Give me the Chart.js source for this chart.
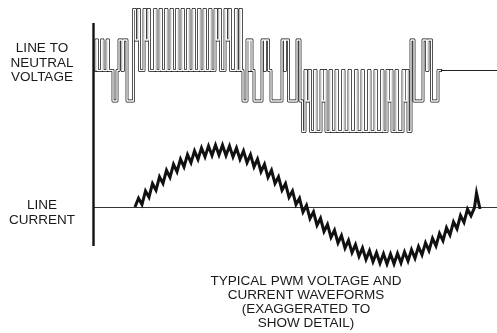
<!DOCTYPE html>
<html>
<head>
<meta charset="utf-8">
<script src="https://cdn.jsdelivr.net/npm/chart.js@4"></script>
<style>
  html, body { margin: 0; padding: 0; background: #fff; }
  canvas { display: block; }
</style>
</head>
<body>
<canvas id="chart" width="497" height="333"></canvas>
<script>
// PWM line-to-neutral voltage: time of each switching edge and the level it switches to
// (levels: +2, +1, 0, -1, -2 steps of the DC bus)
const voltTimes = [
  95.5, 96, 97.5, 101.5, 103, 107, 108.5, 113, 117, 119, 122, 123.5, 127,
  133.5, 135.5, 138, 139.5, 144, 145.5, 148, 149.5, 154.5, 156, 160, 161.5,
  165.5, 167, 171, 172.5, 176.5, 178, 182, 183.5, 187.5, 189, 193, 194.5,
  198.5, 200, 204, 205.5, 209.5, 211, 215, 216.5, 219, 220.5, 225, 226.5,
  229, 230.5, 235.5, 237, 240, 241.5,
  243, 247, 249, 250, 252, 254, 262, 264.5, 265.5, 268.5, 271, 282, 284.5,
  285.5, 288.5, 297, 300,
  302.5, 305, 306.5, 309, 310.5, 314.5, 316, 321, 322.5, 324.5, 326, 330,
  331.5, 336, 337.5, 342.5, 344, 349, 350.5, 355.5, 357, 362, 363.5, 368.5,
  370, 375, 376.5, 381.5, 383, 387, 388.5, 390.5, 392, 396, 397.5, 403,
  404.5, 406.5, 408,
  411, 414, 423, 426.5, 428, 431.5, 438, 441
]
const voltLevels = [
  0, 1, 0, 1, 0, 1, 0, -1, 0, 1, 0, 1, -1,
  2, 1, 2, 0, 2, 1, 2, 0, 2, 0, 2, 0,
  2, 0, 2, 0, 2, 0, 2, 0, 2, 0, 2, 0,
  2, 0, 2, 0, 2, 0, 2, 1, 2, 0, 2, 1,
  2, 0, 2, 0, 2, 0,
  -1, 1, 0, 1, 0, -1, 1, 0, 1, 0, -1, 1, 0,
  1, -1, 1, -1,
  -2, 0, -1, 0, -2, 0, -2, 0, -1, 0, -2, 0,
  -2, 0, -2, 0, -2, 0, -2, 0, -2, 0, -2, 0,
  -2, 0, -2, 0, -2, 0, -1, 0, -2, 0, -2, 0,
  -1, 0, -2,
  1, -1, 1, 0, 1, -1, 0, 0
]
// after the last pulse the voltage stays at zero
const voltTailTimes = [441, 497]
const voltTailLevels = [0, 0]

// line current (ripple on the sine)
const currTimes = [
  135, 138.5, 142, 145.5, 149, 152.5, 156, 159.5, 163, 166.5, 170, 173.5,
  177, 180.5, 184, 187.5, 191, 194.5, 198, 201.5, 205, 208.5, 212, 215.5,
  219, 222.5, 226, 229.5, 233, 236.5, 240, 243.5, 247, 250.5, 254, 257.5,
  261, 264.5, 268, 271.5, 275, 278.5, 282, 285.5, 289, 292.5, 296, 299.5,
  303, 306.5, 310, 313.5, 317, 320.5, 324, 327.5, 331, 334.5, 338, 341.5,
  345, 348.5, 352, 355.5, 359, 362.5, 366, 369.5, 373, 376.5, 380, 383.5,
  387, 390.5, 394, 397.5, 401, 404.5, 408, 411.5, 415, 418.5, 422, 425.5,
  429, 432.5, 436, 439.5, 443, 446.5, 450, 453.5, 457, 460.5, 464, 467.5,
  471, 474.5, 476.5, 480
]
const currValues = [
  0, 8.7, 2.4, 16.1, 9.8, 23.3, 16.8, 30.2, 23.5, 36.7, 29.7, 42.6,
  35.3, 47.9, 40.2, 52.4, 44.4, 56.1, 47.7, 59.0, 50.1, 60.9, 51.5, 61.9,
  52, 61.9, 51.5, 60.9, 50.1, 59.0, 47.7, 56.1, 44.4, 52.4, 40.2, 47.9,
  35.3, 42.6, 29.7, 36.7, 23.5, 30.2, 16.8, 23.3, 9.8, 16.1, 2.4, 8.7,
  -5, 1.7, -11.6, -4.9, -18.2, -11.3, -24.5, -17.5, -30.4, -23.3, -36.0, -28.6,
  -41.1, -33.4, -45.6, -37.6, -49.4, -41.0, -52.5, -43.7, -54.8, -45.7, -56.3, -46.7,
  -57.0, -47.0, -56.8, -46.4, -55.8, -44.9, -53.9, -42.7, -51.2, -39.6, -47.9, -35.9,
  -43.7, -31.4, -39.0, -26.4, -33.7, -20.8, -27.9, -14.9, -21.8, -8.5, -15.4, -2.1,
  -8.7, -0.5, 14, -2
]

const leftLabels = [
  { lines: ["LINE TO", "NEUTRAL", "VOLTAGE"], x: 42, y: 52 },
  { lines: ["LINE", "CURRENT"], x: 42, y: 209 }
]
const caption = ["TYPICAL PWM VOLTAGE AND", "CURRENT WAVEFORMS", "(EXAGGERATED TO", "SHOW DETAIL)"]

const toPoints = (xs, ys) => xs.map((x, i) => ({ x, y: ys[i] }))

const textPlugin = {
  id: "diagramText",
  beforeDatasetsDraw(chart) {
    const { ctx, scales } = chart
    const x0 = scales.x.getPixelForValue(93.5)
    const zeroY = scales.yI.getPixelForValue(0)
    ctx.save()
    // current axis
    ctx.strokeStyle = "#333"
    ctx.lineWidth = 1
    ctx.beginPath()
    ctx.moveTo(x0, zeroY + 0.5)
    ctx.lineTo(chart.width, zeroY + 0.5)
    ctx.stroke()
    // vertical time origin
    ctx.strokeStyle = "#111"
    ctx.lineWidth = 2.4
    ctx.beginPath()
    ctx.moveTo(x0, 23)
    ctx.lineTo(x0, 246)
    ctx.stroke()
    ctx.restore()
  },
  afterDraw(chart) {
    const { ctx } = chart
    ctx.save()
    ctx.fillStyle = "#1a1a1a"
    ctx.font = '13.5px "Liberation Sans", Arial, sans-serif'
    ctx.textAlign = "center"
    ctx.textBaseline = "alphabetic"
    leftLabels.forEach(lbl => {
      lbl.lines.forEach((t, i) => ctx.fillText(t, lbl.x, lbl.y + i * 14.5))
    })
    caption.forEach((t, i) => ctx.fillText(t, 306, 285 + i * 14))
    ctx.restore()
  }
}

const voltData = toPoints(voltTimes, voltLevels)

new Chart(document.getElementById("chart"), {
  type: "line",
  data: {
    datasets: [
      {
        label: "current",
        data: toPoints(currTimes, currValues),
        yAxisID: "yI",
        borderColor: "#111",
        borderWidth: 3,
        borderJoinStyle: "miter",
        pointRadius: 0,
        tension: 0,
        order: 0
      },
      {
        label: "voltage core",
        data: voltData,
        yAxisID: "yV",
        stepped: true,
        borderColor: "#fff",
        borderWidth: 1.4,
        borderJoinStyle: "round",
        pointRadius: 0,
        order: 1
      },
      {
        label: "voltage",
        data: voltData,
        yAxisID: "yV",
        stepped: true,
        borderColor: "#111",
        borderWidth: 2.8,
        borderJoinStyle: "round",
        borderCapStyle: "round",
        pointRadius: 0,
        order: 2
      },
      {
        label: "voltage tail",
        data: toPoints(voltTailTimes, voltTailLevels),
        yAxisID: "yV",
        borderColor: "#222",
        borderWidth: 1,
        pointRadius: 0,
        order: 3
      }
    ]
  },
  options: {
    responsive: false,
    animation: false,
    devicePixelRatio: 1,
    layout: { padding: 0 },
    plugins: {
      legend: { display: false },
      tooltip: { enabled: false }
    },
    scales: {
      x: { type: "linear", min: 0, max: 497, display: false },
      yV: { type: "linear", min: -8.6066, max: 2.3115, display: false },
      yI: { type: "linear", min: -126, max: 207, display: false }
    }
  },
  plugins: [textPlugin]
})
</script>
</body>
</html>
